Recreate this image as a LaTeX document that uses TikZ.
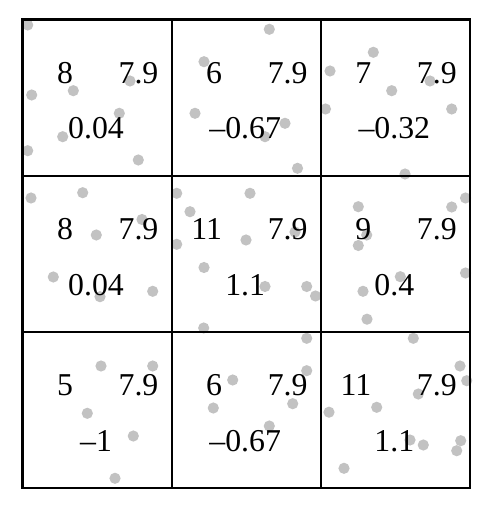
\documentclass[tikz,border=0pt]{standalone}
\usepackage{fontspec}
\setmainfont{Liberation Serif}

\begin{document}
\begin{tikzpicture}[x=0.3333pt,y=-0.3333pt,
  spot/.style={fill=black!24},
  rule/.style={line width=0.7pt},
  num/.style={font=\fontsize{10.6}{12}\selectfont,inner sep=0pt}]
\useasboundingbox (0,0) rectangle (494,508);
% scattered points
\foreach \x/\y in %
{27.7/25,31.7/95,73.3/90.7,130/81,119.3/113.3,62.7/136.7,27.7/150.7,138.3/160,
 204/61.7,195/113.3,269.3/29.3,285/123.3,265/136.7,297.5/168.3,
 330/71,373.3/52.3,391.7/90.7,430/81,325.5/109,451.7/109,405/174,
 31/198,82.7/192.7,96.3/235,142/219.5,53.3/277,100/296.7,152.7/291.3,
 176.7/193.3,190/211.7,176.7/244.3,250/193.3,246/240,295/232,204/267.5,
 265/286.5,306.7/286.5,315.5/296,203.7/328,
 358.3/206.7,366.7/235,358.3/245.5,451.7/207,465.5/198,400.3/276.7,
 363/291.3,367/319.2,465.5/273,
 101/366,152.7/366,87.3/413.3,133.3/436,115/478.3,
 306.7/338.3,306.7/370.7,232.7/380,213.3/408,292.7/403.7,269.3/426,
 329/412.2,344/468.3,376.7/407.3,413.3/338.3,460/366,466.7/380.7,
 418.3/394,410/440,423.3/445,460.7/440.7,456.7/450.7} {
   \fill[spot] (\x,\y) circle (5.6);
}
% cell entries
\foreach \r/\c/\n/\v in %
{1/1/8/0.04,1/2/6/\textendash0.67,1/3/7/\textendash0.32,
 2/1/8/0.04,2/2/11/1.1,2/3/9/0.4,
 3/1/5/\textendash1,3/2/6/\textendash0.67,3/3/11/1.1} {
   \node[num,anchor=base east] (n\r\c) at ({22.5+149.17*(\c-1)+51},{19.5+156.17*(\r-1)+64}) {\n};
   \node[num,anchor=base] (w\r\c) at ({22.5+149.17*(\c-1)+116},{19.5+156.17*(\r-1)+64}) {7.9};
   \node[num,anchor=base] (v\r\c) at ({22.5+149.17*(\c-1)+73.5},{19.5+156.17*(\r-1)+119.5}) {\v};
}
% grid
\draw[rule] (22.5,19.5) rectangle (470,488);
\foreach \i in {1,2} {
   \draw[rule] ({22.5+149.17*\i},19.5) -- ({22.5+149.17*\i},488);
   \draw[rule] (22.5,{19.5+156.17*\i}) -- (470,{19.5+156.17*\i});
}
\end{tikzpicture}
\end{document}
